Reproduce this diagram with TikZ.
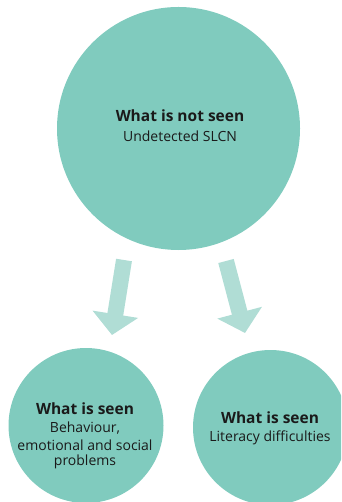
\documentclass[tikz,border=0pt]{standalone}
\usepackage{fontspec}
\setmainfont{Open Sans}
\usetikzlibrary{arrows.meta}
\definecolor{circ}{HTML}{80CBBE}
\definecolor{arr}{HTML}{B0DDD5}
\definecolor{ink}{HTML}{1A1A1A}
\begin{document}
\begin{tikzpicture}[x=1pt,y=-1pt,
  bubble/.style={circle,fill=circ,draw=none,inner sep=0pt},
  title/.style={font=\fontsize{15.5}{17}\selectfont\bfseries,text=ink,inner sep=0pt},
  body/.style={font=\fontsize{14}{16}\selectfont,text=ink,inner sep=0pt},
  flow/.style={draw=arr,line width=16pt,-{Triangle[width=45pt,length=21pt]}}]
\useasboundingbox (0,0) rectangle (341,502);
\clip (0,0) rectangle (341,502);
\node[bubble,minimum size=243pt] (top) at (178.5,128.5) {};
\node[bubble,minimum size=155pt] (left) at (86,425.5) {};
\node[bubble,minimum size=155pt] (right) at (270.5,427.5) {};
\node[title] (t1) at (180,116) {What is not seen};
\node[body] (t2) at (180,136.5) {Undetected SLCN};
\node[title] (l1) at (85,409) {What is seen};
\node[body] (l2) at (85,428) {Behaviour,};
\node[body] (l3) at (85,445) {emotional and social};
\node[body] (l4) at (85,462) {problems};
\node[title] (r1) at (270,418) {What is seen};
\node[body] (r2) at (270,438) {Literacy difficulties};
\coordinate (a1s) at (124,260);
\coordinate (a1e) at (112,335);
\coordinate (a2s) at (226,261);
\coordinate (a2e) at (245,333);
\draw[flow] (a1s) -- (a1e);
\draw[flow] (a2s) -- (a2e);
\end{tikzpicture}
\end{document}
